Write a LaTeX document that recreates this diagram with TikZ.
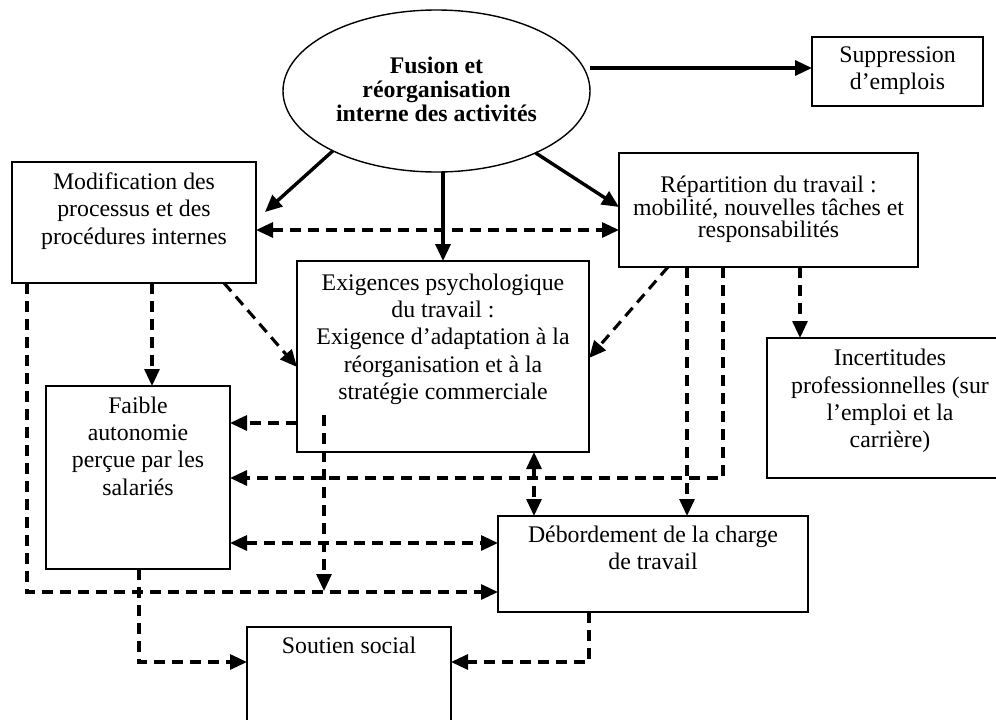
\documentclass[tikz,border=0pt]{standalone}
\usepackage{fontspec}
\setmainfont{Liberation Serif}
\usetikzlibrary{arrows.meta,shapes.geometric,calc}
\begin{document}
\begin{tikzpicture}[x=1pt,y=-1pt,
  box/.style={draw,line width=1.8pt,rectangle,inner sep=0pt,outer sep=0pt},
  txt/.style={align=center,inner sep=0pt,anchor=north,font=\fontsize{23.8}{27.2}\selectfont},
  solidarr/.style={line width=3.4pt,-{Triangle[length=17pt,width=15pt]}},
  dasharr/.style={line width=3.1pt,dash pattern=on 11pt off 7pt,-{Triangle[length=17pt,width=15pt]}},
  dbl/.style={{Triangle[length=17pt,width=15pt]}-{Triangle[length=17pt,width=15pt]}}
]
\useasboundingbox (0,0) rectangle (996,720);
\clip (0,0) rectangle (996,720);
\fill[white] (0,0) rectangle (996,720);

% ellipse
\node[draw,ellipse,line width=1.4pt,minimum width=307pt,minimum height=162pt,inner sep=0pt,outer sep=0pt] (ell) at (436.5,91) {};
\node[txt,font=\fontsize{23.8}{24}\selectfont\bfseries] (ellt) at (ell.north |- 0,57) {Fusion et\\réorganisation\\interne des activités};

% boxes
\node[box,minimum width=171pt,minimum height=69pt] (sup) at (897.5,71.5) {};
\node[txt] (supt) at ([yshift=-9.7pt]sup.north) {Suppression\\d’emplois};

\node[box,minimum width=244pt,minimum height=121pt] (mod) at (134,222.5) {};
\node[txt] (modt) at ([yshift=-10.7pt]mod.north) {Modification des\\processus et des\\procédures internes};

\node[box,minimum width=299pt,minimum height=114pt] (rep) at (768.5,210) {};
\node[txt,font=\fontsize{23.8}{22.8}\selectfont] (rept) at ([yshift=-22.5pt]rep.north) {Répartition du travail :\\mobilité, nouvelles tâches et\\responsabilités};

\node[box,minimum width=292pt,minimum height=191pt] (exi) at (443,356.5) {};
\node[txt] (exit) at ([yshift=-12.7pt]exi.north) {Exigences psychologique\\du travail :\\Exigence d’adaptation à la\\réorganisation et à la\\stratégie commerciale};

\node[box,minimum width=184pt,minimum height=183pt] (fai) at (138,477.5) {};
\node[txt] (fait) at ([yshift=-10.7pt]fai.north) {Faible\\autonomie\\perçue par les\\salariés};

\node[box,minimum width=246pt,minimum height=140pt] (inc) at (890,408) {};
\node[txt] (inct) at ([yshift=-11.2pt]inc.north) {Incertitudes\\professionnelles (sur\\l’emploi et la\\carrière)};

\node[box,minimum width=310pt,minimum height=96pt] (deb) at (653,564) {};
\node[txt] (debt) at ([yshift=-9.7pt]deb.north) {Débordement de la charge\\de travail};

\node[box,minimum width=204pt,minimum height=133pt] (sou) at (349,693.5) {};
\node[txt] (sout) at ([yshift=-10pt]sou.north) {Soutien social};

% solid arrows
\draw[solidarr] (ell.east |- 0,68) -- (sup.west |- 0,68);
\draw[solidarr] (ell.210) -- ($(mod.east)+(9,-10.5)$);
\draw[solidarr] (exi.north |- ell.south) -- (exi.north);
\draw[solidarr] (ell.328) -- (rep.west |- 0,207);

% dashed arrows
\draw[dasharr,dbl] (mod.east |- 0,230) -- (rep.west |- 0,230);
\draw[dasharr] (mod.south -| 152,0) -- (fai.north -| 152,0);
\draw[dasharr] (mod.south -| 224,0) -- (exi.west |- 0,367);
\draw[dasharr] (rep.south -| 668,0) -- (exi.east |- 0,358);
\draw[dasharr] (rep.south -| 800,0) -- (inc.north -| 800,0);
\draw[dasharr] (rep.south -| 687,0) -- (deb.north -| 687,0);
\draw[dasharr] (rep.south -| 723,0) |- (fai.east |- 0,478);
\draw[dasharr] (exi.west |- 0,423) -- (fai.east |- 0,423);
\draw[dasharr,dbl] (exi.south -| 534,0) -- (deb.north -| 534,0);
\draw[dasharr] ($(exi.south west)+(27,-37)$) -- ($(exi.south west)+(27,139)$);
\draw[dasharr,dbl] (fai.east |- 0,543) -- (deb.west |- 0,543);
\draw[dasharr] (mod.south -| 27,0) |- (deb.west |- 0,592);
\draw[dasharr] (fai.south -| 139,0) |- (sou.west |- 0,662);
\draw[dasharr] (deb.south -| 589,0) |- (sou.east |- 0,662);
\end{tikzpicture}
\end{document}
